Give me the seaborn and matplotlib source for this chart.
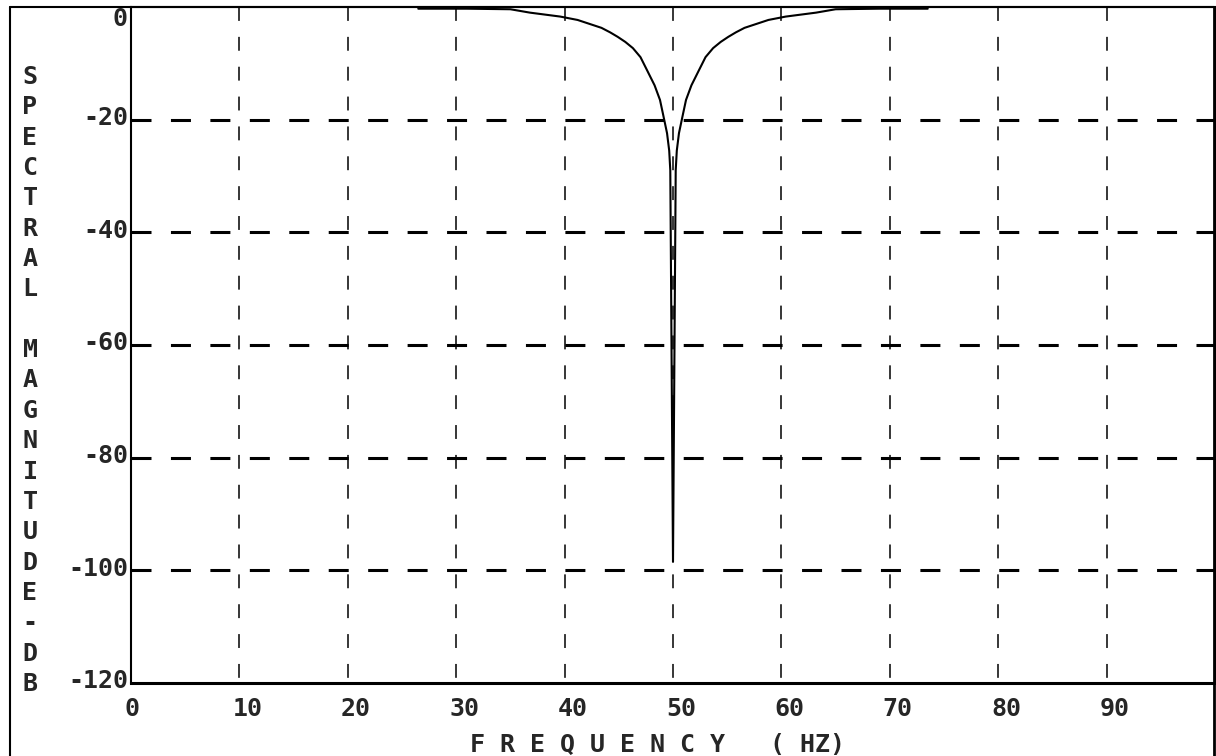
import matplotlib
matplotlib.use('Agg')
import matplotlib.pyplot as plt
import seaborn as sns
from matplotlib.lines import Line2D
from matplotlib.transforms import ScaledTranslation

# notch filter response (Hz, dB)
freq_hz = [26.5, 31.0, 35.0, 36.8, 39.6, 41.2, 42.3, 43.4, 44.2, 44.9, 45.6, 46.3,
           47.0, 47.6, 48.3, 48.8, 49.1, 49.45, 49.65, 49.75, 50.0,
           50.25, 50.35, 50.55, 50.9, 51.2, 51.7, 52.4, 53.0, 53.7, 54.4, 55.1,
           55.8, 56.6, 57.7, 58.8, 60.4, 63.2, 65.0, 69.0, 73.5]
mag_db = [-0.3, -0.3, -0.4, -1.0, -1.7, -2.3, -3.0, -3.7, -4.5, -5.3, -6.2, -7.3,
          -8.9, -11.2, -13.9, -16.5, -19.2, -22.4, -25.5, -29.0, -98.5,
          -29.0, -25.5, -22.4, -19.2, -16.5, -13.9, -11.2, -8.9, -7.3, -6.2, -5.3,
          -4.5, -3.7, -3.0, -2.3, -1.7, -1.0, -0.4, -0.3, -0.3]

x_ticks = [0, 10, 20, 30, 40, 50, 60, 70, 80, 90]
y_ticks = [0, -20, -40, -60, -80, -100, -120]
x_title = 'F R E Q U E N C Y   ( HZ)'
y_title = 'SPECTRAL MAGNITUDE-DB'

W, H = 1216, 756

sns.set_style('white')
plt.rcParams['font.family'] = ['DejaVu Sans Mono']
plt.rcParams['font.weight'] = 'bold'
plt.rcParams['lines.scale_dashes'] = False

fig = plt.figure(figsize=(W / 100, H / 100), dpi=100)
ax = fig.add_axes([131 / W, 73 / H, 1084 / W, 676 / H])

# dashed grid, horizontal heavy, vertical light
ax.hlines(y_ticks[1:-1], 0, 100, colors='black', linewidth=2.2,
          linestyles=(0, (14.4, 14.0)), zorder=1)
ax.vlines(x_ticks[1:], 0, -120, colors='black', linewidth=1.1,
          linestyles=(0, (10.0, 11.5)), zorder=1)

sns.lineplot(x=freq_hz, y=mag_db, ax=ax, color='black', linewidth=1.5,
             estimator=None, sort=False, zorder=3)

ax.set_xlim(0, 100)
ax.set_ylim(-120, 0)
ax.set_xlabel('')
ax.set_ylabel('')

for side, lw in [('left', 1.5), ('bottom', 2.2), ('top', 1.5), ('right', 2.0)]:
    ax.spines[side].set_visible(True)
    ax.spines[side].set_color('black')
    ax.spines[side].set_linewidth(lw)

ax.set_xticks(x_ticks)
ax.set_xticklabels([str(t) for t in x_ticks], fontsize=18, fontweight='bold')
ax.set_yticks(y_ticks)
ax.set_yticklabels([str(t) for t in y_ticks], fontsize=18, fontweight='bold')
ax.tick_params(axis='x', direction='inout', length=20, width=1.1, pad=0, color='black')
ax.tick_params(axis='y', length=0, pad=2.2)

for lbl in ax.get_xticklabels():
    lbl.set_horizontalalignment('left')
    lbl.set_transform(lbl.get_transform() + ScaledTranslation(-0.07, 0, fig.dpi_scale_trans))
for lbl in ax.get_yticklabels():
    if lbl.get_text() == '0':
        lbl.set_verticalalignment('top')
    else:
        lbl.set_transform(lbl.get_transform() + ScaledTranslation(0, 0.04, fig.dpi_scale_trans))

# stacked vertical axis title
for i, ch in enumerate(y_title):
    fig.text(30 / W, 1 - (77 + i * 30.35) / H, ch, ha='center', va='center',
             fontsize=18, fontweight='bold')

fig.text(470 / W, 1 - 733 / H, x_title, ha='left', va='top',
         fontsize=18, fontweight='bold')

# outer frame of the screen
fig.add_artist(Line2D([10 / W, 10 / W], [0, 1 - 7 / H], transform=fig.transFigure,
                      color='black', linewidth=1.5))
fig.add_artist(Line2D([10 / W, 1214 / W], [1 - 7 / H, 1 - 7 / H], transform=fig.transFigure,
                      color='black', linewidth=1.5))
fig.add_artist(Line2D([1214 / W, 1214 / W], [0, 1 - 7 / H], transform=fig.transFigure,
                      color='black', linewidth=2.0))

fig.savefig('out.png', dpi=100, facecolor='white')
